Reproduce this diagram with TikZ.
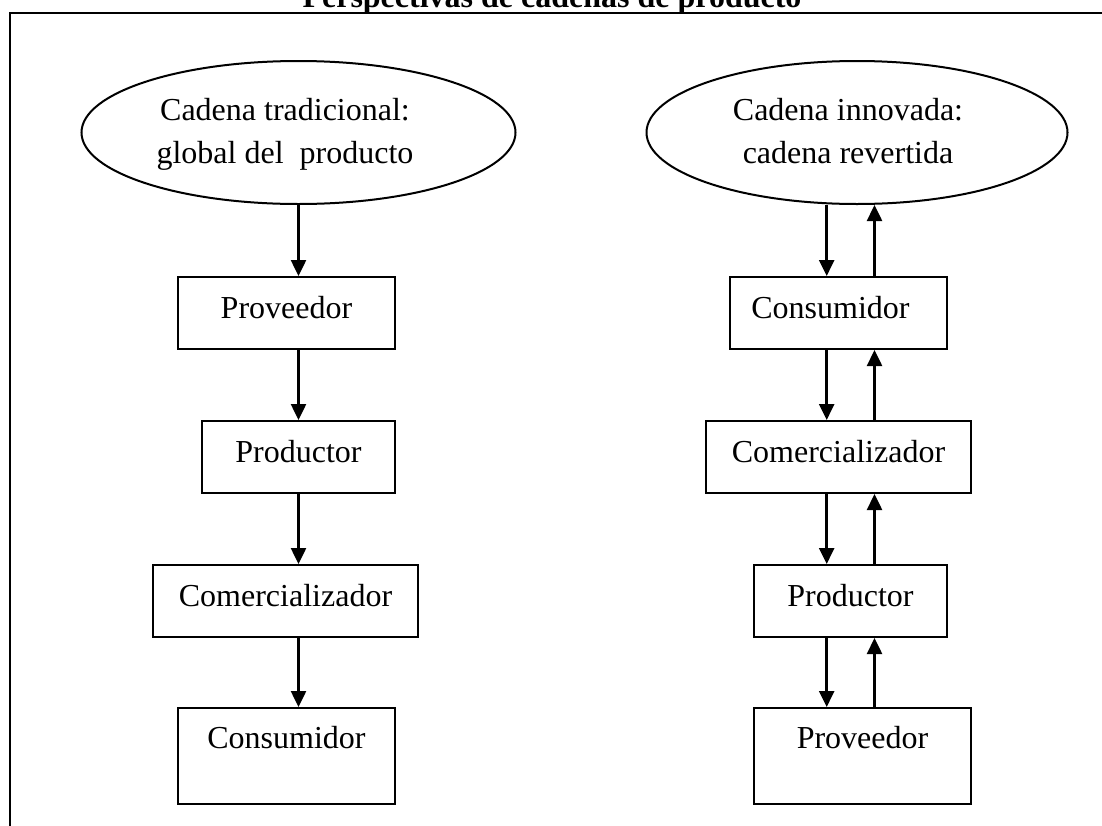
\documentclass[tikz,border=0pt]{standalone}
\usepackage{fontspec}
\setmainfont{Liberation Serif}
\usetikzlibrary{arrows.meta,shapes.geometric}

\begin{document}
\begin{tikzpicture}[x=1pt,y=-1pt,
  box/.style={draw,line width=2pt,minimum height=72pt,inner sep=0pt,
    text height=10pt,text depth=0pt,font=\fontsize{32}{38}\selectfont},
  tallbox/.style={box,minimum height=96pt,text height=0pt,text depth=16pt},
  oval/.style={draw,ellipse,line width=2pt,inner sep=0pt,minimum height=143pt},
  txt/.style={anchor=base,inner sep=0pt,font=\fontsize{32}{38}\selectfont},
  flow/.style={line width=2.5pt,-{Triangle[length=16pt,width=15pt]}}]

\useasboundingbox (0,0) rectangle (1102,825);

% outer frame (runs off the page to the right and bottom)
\draw[line width=2.2pt] (10,860) -- (10,13) -- (1130,13);

% heading
\node[anchor=base,inner sep=0pt,font=\bfseries\fontsize{32}{38}\selectfont]
  (title) at (552,7.5) {Perspectivas de cadenas de producto};

% ---- traditional chain ----
\node[oval,minimum width=434pt] (trad) at (298.5,132.5) {};
\node[txt] (tradA) at (285,120) {Cadena tradicional:};
\node[txt] (tradB) at (285,163) {global del\ \ producto};

\node[box,minimum width=217pt] (lprov) at (286.5,313) {Proveedor};
\node[box,minimum width=193pt] (lprod) at (298.5,457) {Productor};
\node[box,minimum width=265pt] (lcom)  at (285.5,601) {Comercializador};
\node[tallbox,minimum width=217pt] (lcons) at (286.5,756) {Consumidor};

\coordinate (lx) at (298.5,0);
\draw[flow] (trad.south -| lx) -- (lprov.north -| lx);
\draw[flow] (lprov.south -| lx) -- (lprod.north -| lx);
\draw[flow] (lprod.south -| lx) -- (lcom.north -| lx);
\draw[flow] (lcom.south -| lx)  -- (lcons.north -| lx);

% ---- reversed chain ----
\node[oval,minimum width=421pt] (innov) at (857,132.5) {};
\node[txt] (innovA) at (848,120) {Cadena innovada:};
\node[txt] (innovB) at (848,163) {cadena revertida};

\node[box,minimum width=217pt] (rcons) at (838.5,313) {\hspace*{-16pt}Consumidor};
\node[box,minimum width=265pt] (rcom)  at (838.5,457) {Comercializador};
\node[box,minimum width=193pt] (rprod) at (850.5,601) {Productor};
\node[tallbox,minimum width=217pt] (rprov) at (862.5,756) {Proveedor};

\coordinate (dx) at (826.7,0);
\coordinate (ux) at (874.5,0);
\draw[flow] (innov.south -| dx) -- (rcons.north -| dx);
\draw[flow] (rcons.north -| ux) -- (innov.south -| ux);
\draw[flow] (rcons.south -| dx) -- (rcom.north -| dx);
\draw[flow] (rcom.north -| ux)  -- (rcons.south -| ux);
\draw[flow] (rcom.south -| dx)  -- (rprod.north -| dx);
\draw[flow] (rprod.north -| ux) -- (rcom.south -| ux);
\draw[flow] (rprod.south -| dx) -- (rprov.north -| dx);
\draw[flow] (rprov.north -| ux) -- (rprod.south -| ux);
\end{tikzpicture}
\end{document}
